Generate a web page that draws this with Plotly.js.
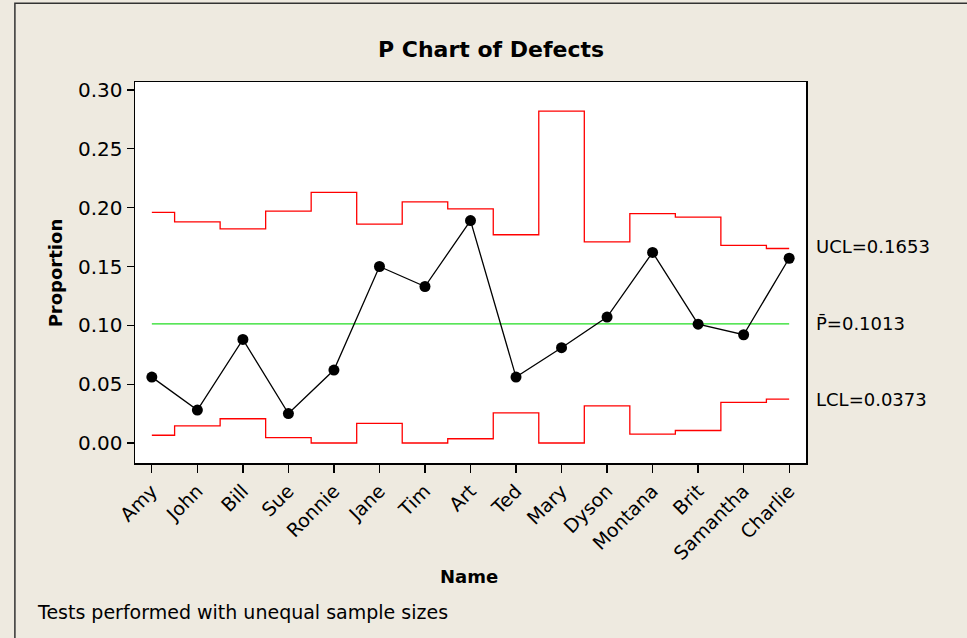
<!DOCTYPE html>
<html>
<head>
<meta charset="utf-8">
<script src="https://cdn.plot.ly/plotly-3.0.1.min.js"></script>
<style>html,body{margin:0;padding:0;background:#EEEAE0;}#chart{width:967px;height:638px;}</style>
</head>
<body>
<div id="chart"></div>
<script>
const names = ["Amy","John","Bill","Sue","Ronnie","Jane","Tim","Art","Ted","Mary","Dyson","Montana","Brit","Samantha","Charlie"];
const proportion = [0.056,0.028,0.088,0.025,0.062,0.150,0.133,0.189,0.056,0.081,0.107,0.162,0.101,0.092,0.157];
const ucl = [0.196,0.188,0.182,0.197,0.213,0.186,0.205,0.199,0.177,0.282,0.171,0.195,0.192,0.168,0.1653];
const lcl = [0.0066,0.0146,0.0206,0.0046,0.0,0.0166,0.0,0.0036,0.0256,0.0,0.0316,0.0076,0.0106,0.0346,0.0373];
const pbar = 0.1013;
const centerLine = names.map(() => pbar);

const F = "'DejaVu Sans', sans-serif";

const traces = [
  {x: names, y: ucl, type: "scatter", mode: "lines", line: {color: "#FF0000", width: 1.3, shape: "hvh"}, hoverinfo: "skip"},
  {x: names, y: lcl, type: "scatter", mode: "lines", line: {color: "#FF0000", width: 1.3, shape: "hvh"}, hoverinfo: "skip"},
  {x: names, y: centerLine, type: "scatter", mode: "lines", line: {color: "#22DD22", width: 1.3}, hoverinfo: "skip"},
  {x: names, y: proportion, type: "scatter", mode: "lines+markers", line: {color: "#000000", width: 1.3}, marker: {color: "#000000", size: 11}}
];

const layout = {
  width: 967, height: 638,
  paper_bgcolor: "#EEEAE0", plot_bgcolor: "#FFFFFF",
  margin: {l: 135, r: 161, t: 82, b: 175},
  showlegend: false,
  font: {family: F, color: "#000000", size: 19},
  xaxis: {
    type: "category", range: [-0.37, 14.37],
    showgrid: false, zeroline: false,
    showline: true, linecolor: "#000", linewidth: 1.5, mirror: true,
    ticks: "outside", ticklen: 8, tickcolor: "#000", tickwidth: 1.3,
    tickangle: -45, tickfont: {family: F, size: 19},
    title: {text: ""}
  },
  yaxis: {
    range: [-0.017, 0.3068],
    tickvals: [0, 0.05, 0.10, 0.15, 0.20, 0.25, 0.30],
    ticktext: ["0.00","0.05","0.10","0.15","0.20","0.25","0.30"],
    showgrid: false, zeroline: false,
    showline: true, linecolor: "#000", linewidth: 1.5, mirror: true,
    ticks: "outside", ticklen: 7, tickcolor: "#000", tickwidth: 1.3,
    tickfont: {family: F, size: 20},
    title: {text: ""}
  },
  shapes: [
    {type: "rect", xref: "paper", yref: "paper", x0: -0.179, x1: 1.3, y0: -1, y1: 1.207, line: {color: "#333", width: 1.5}, fillcolor: "rgba(0,0,0,0)"}
  ],
  annotations: [
    {text: "<b>P Chart of Defects</b>", xref: "paper", yref: "paper", x: 0.5305, y: 1.084, xanchor: "center", yanchor: "middle", showarrow: false, font: {family: F, size: 22}},
    {text: "<b>Proportion</b>", xref: "paper", yref: "paper", x: -0.118, y: 0.5, xanchor: "center", yanchor: "middle", textangle: -90, showarrow: false, font: {family: F, size: 18}},
    {text: "<b>Name</b>", xref: "paper", yref: "paper", x: 0.498, y: -0.297, xanchor: "center", yanchor: "middle", showarrow: false, font: {family: F, size: 18}},
    {text: "Tests performed with unequal sample sizes", xref: "paper", yref: "paper", x: -0.149, y: -0.39, xanchor: "left", yanchor: "middle", showarrow: false, font: {family: F, size: 19}},
    {text: "UCL=0.1653", xref: "paper", yref: "y", x: 1.012, y: ucl[ucl.length-1] + 0.002, xanchor: "left", yanchor: "middle", showarrow: false, font: {family: F, size: 18}},
    {text: "P\u0304=0.1013", xref: "paper", yref: "y", x: 1.012, y: pbar, xanchor: "left", yanchor: "middle", showarrow: false, font: {family: F, size: 18}},
    {text: "LCL=0.0373", xref: "paper", yref: "y", x: 1.012, y: lcl[lcl.length-1], xanchor: "left", yanchor: "middle", showarrow: false, font: {family: F, size: 18}}
  ]
};

Plotly.newPlot("chart", traces, layout, {displayModeBar: false, staticPlot: true});
</script>
</body>
</html>
